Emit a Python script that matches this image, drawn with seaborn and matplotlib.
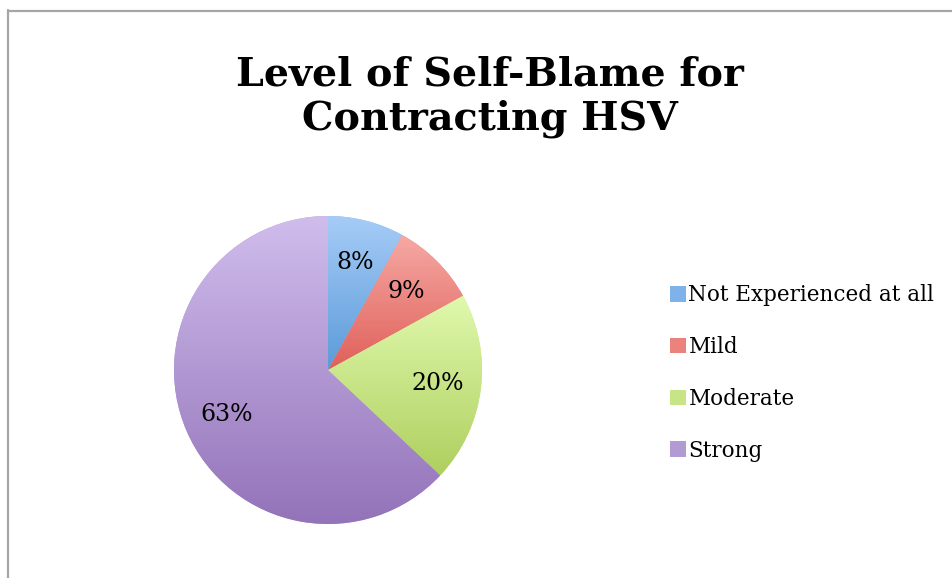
import numpy as np
import matplotlib
matplotlib.use("Agg")
import matplotlib.pyplot as plt
from matplotlib.lines import Line2D
from matplotlib.patches import Patch
from matplotlib.colors import LinearSegmentedColormap
import seaborn as sns

categories = ["Not Experienced at all", "Mild", "Moderate", "Strong"]
values = [8, 9, 20, 63]
labels = ["8%", "9%", "20%", "63%"]
title = "Level of Self-Blame for\nContracting HSV"

top_colors = ["#A6CCF7", "#F6A9A4", "#E0F9AE", "#D0BDEC"]
bottom_colors = ["#5B9BD9", "#E0605A", "#AFCF5E", "#9373B9"]
mid_colors = ["#7FB2EA", "#EC827C", "#C8E585", "#B29AD3"]

sns.set_theme(style="white")
plt.rcParams["font.family"] = ["DejaVu Serif"]

W, H = 953, 578
fig = plt.figure(figsize=(W / 100, H / 100), dpi=100)
fig.patch.set_facecolor("white")

# frame
fig.add_artist(Line2D([8 / W, 1], [1 - 10.5 / H, 1 - 10.5 / H], color="#a6a6a6", lw=1.6))
fig.add_artist(Line2D([8.5 / W, 8.5 / W], [1 - 10 / H, 0], color="#a6a6a6", lw=1.6))

cx, cy, r = 328, 370, 154
ax = fig.add_axes([(cx - r) / W, (H - cy - r) / H, 2 * r / W, 2 * r / H])
ax.axis("off")

wedges, texts = ax.pie(values, startangle=90, counterclock=False, radius=1,
                       colors=mid_colors, labels=labels, labeldistance=0.72,
                       textprops=dict(fontsize=17, color="black"),
                       wedgeprops=dict(linewidth=0))
for t in texts:
    t.set_ha("center")
    t.set_va("center")
    t.set_zorder(5)

grad = np.linspace(0, 1, 256).reshape(-1, 1)
for w, c0, c1 in zip(wedges, top_colors, bottom_colors):
    ext = w.get_path().get_extents()
    cmap = LinearSegmentedColormap.from_list("g", [c0, c1])
    im = ax.imshow(grad, cmap=cmap, aspect="auto", origin="upper",
                   extent=[ext.x0, ext.x1, ext.y0, ext.y1], zorder=w.get_zorder(),
                   interpolation="bilinear")
    im.set_clip_path(w)
ax.set_xlim(-1, 1)
ax.set_ylim(-1, 1)

fig.text(490 / W, 1 - 97 / H, title, ha="center", va="center", fontsize=28.5,
         fontweight="bold", linespacing=1.2, color="black")

handles = [Patch(facecolor=c, edgecolor="none") for c in mid_colors]
fig.legend(handles, categories, loc="center left", bbox_to_anchor=(651 / W, 1 - 373 / H),
           frameon=False, fontsize=15.5, handlelength=0.72, handleheight=0.72,
           handletextpad=0.12, labelspacing=1.38, labelcolor="black")

fig.savefig("out.png", dpi=100, facecolor="white")
